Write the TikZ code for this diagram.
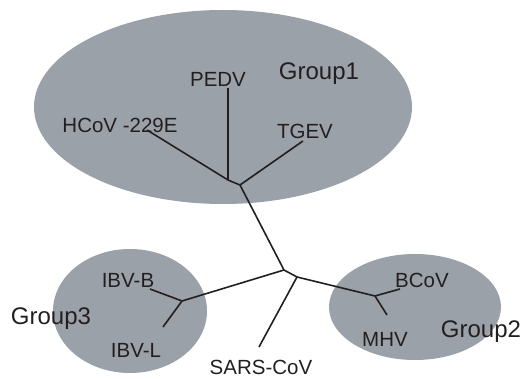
\documentclass[tikz,border=0pt]{standalone}
\usepackage{fontspec}
\setmainfont{Liberation Sans}
\usepackage{tikz}
\usetikzlibrary{positioning}
\usepackage{xcolor}
\definecolor{groupgrey}{RGB}{155,161,168}
\definecolor{inkdark}{RGB}{35,31,32}

\begin{document}
\begin{tikzpicture}[
    x=1pt, y=-1pt,
    font=\fontsize{20.5}{24}\selectfont,
    leaf/.style={anchor=base, inner sep=0pt, text=inkdark},
    grouplabel/.style={anchor=base, inner sep=0pt, text=inkdark,
                       font=\fontsize{24}{28}\selectfont},
    branch/.style={line width=1.6pt, draw=inkdark},
  ]
    \useasboundingbox (0,0) rectangle (528,379);

    %% ── Group areas ──────────────────────────────────────────
    \fill[groupgrey] (223,107) ellipse [x radius=189, y radius=97];
    \fill[groupgrey] (130,311) ellipse [x radius=77, y radius=62];
    \fill[groupgrey] (415,307) ellipse [x radius=86, y radius=53];

    %% ── Tree points ──────────────────────────────────────────
    \coordinate (g1a)  at (228,180);
    \coordinate (g1b)  at (240,185);
    \coordinate (root) at (284,270);
    \coordinate (mid)  at (297,277);
    \coordinate (g3)   at (182,301);
    \coordinate (g2)   at (375,296);
    \coordinate (thcov) at (147,130);
    \coordinate (tpedv) at (228,88);
    \coordinate (ttgev) at (303,141);
    \coordinate (tibvb) at (150,289);
    \coordinate (tibvl) at (163,327);
    \coordinate (tsars) at (259,347);
    \coordinate (tbcov) at (400,289);
    \coordinate (tmhv)  at (387,315);

    %% ── Labels ───────────────────────────────────────────────
    \node[leaf] (pedv) at (218,87)  {PEDV};
    \node[leaf] (hcov) at (120,133) {HCoV -229E};
    \node[leaf] (tgev) at (305,139) {TGEV};
    \node[leaf] (ibvb) at (128,288) {IBV-B};
    \node[leaf] (ibvl) at (136,358) {IBV-L};
    \node[leaf] (sars) at (261,374.5) {SARS-CoV};
    \node[leaf] (bcov) at (422,288) {BCoV};
    \node[leaf] (mhv)  at (385,347) {MHV};
    \node[grouplabel] (grp1) at (319,80)  {Group1};
    \node[grouplabel] (grp3) at (51,325)  {Group3};
    \node[grouplabel] (grp2) at (481,338) {Group2};

    %% ── Branches ─────────────────────────────────────────────
    \draw[branch] (thcov) -- (g1a);
    \draw[branch, line width=2pt] (tpedv) -- (g1a);
    \draw[branch] (g1a) -- (g1b);
    \draw[branch] (ttgev) -- (g1b);
    \draw[branch] (g1b) -- (root);
    \draw[branch] (root) -- (g3);
    \draw[branch] (g3) -- (tibvb);
    \draw[branch] (g3) -- (tibvl);
    \draw[branch] (root) -- (mid);
    \draw[branch] (mid) -- (tsars);
    \draw[branch] (mid) -- (g2);
    \draw[branch] (g2) -- (tbcov);
    \draw[branch] (g2) -- (tmhv);

  \end{tikzpicture}
\end{document}
